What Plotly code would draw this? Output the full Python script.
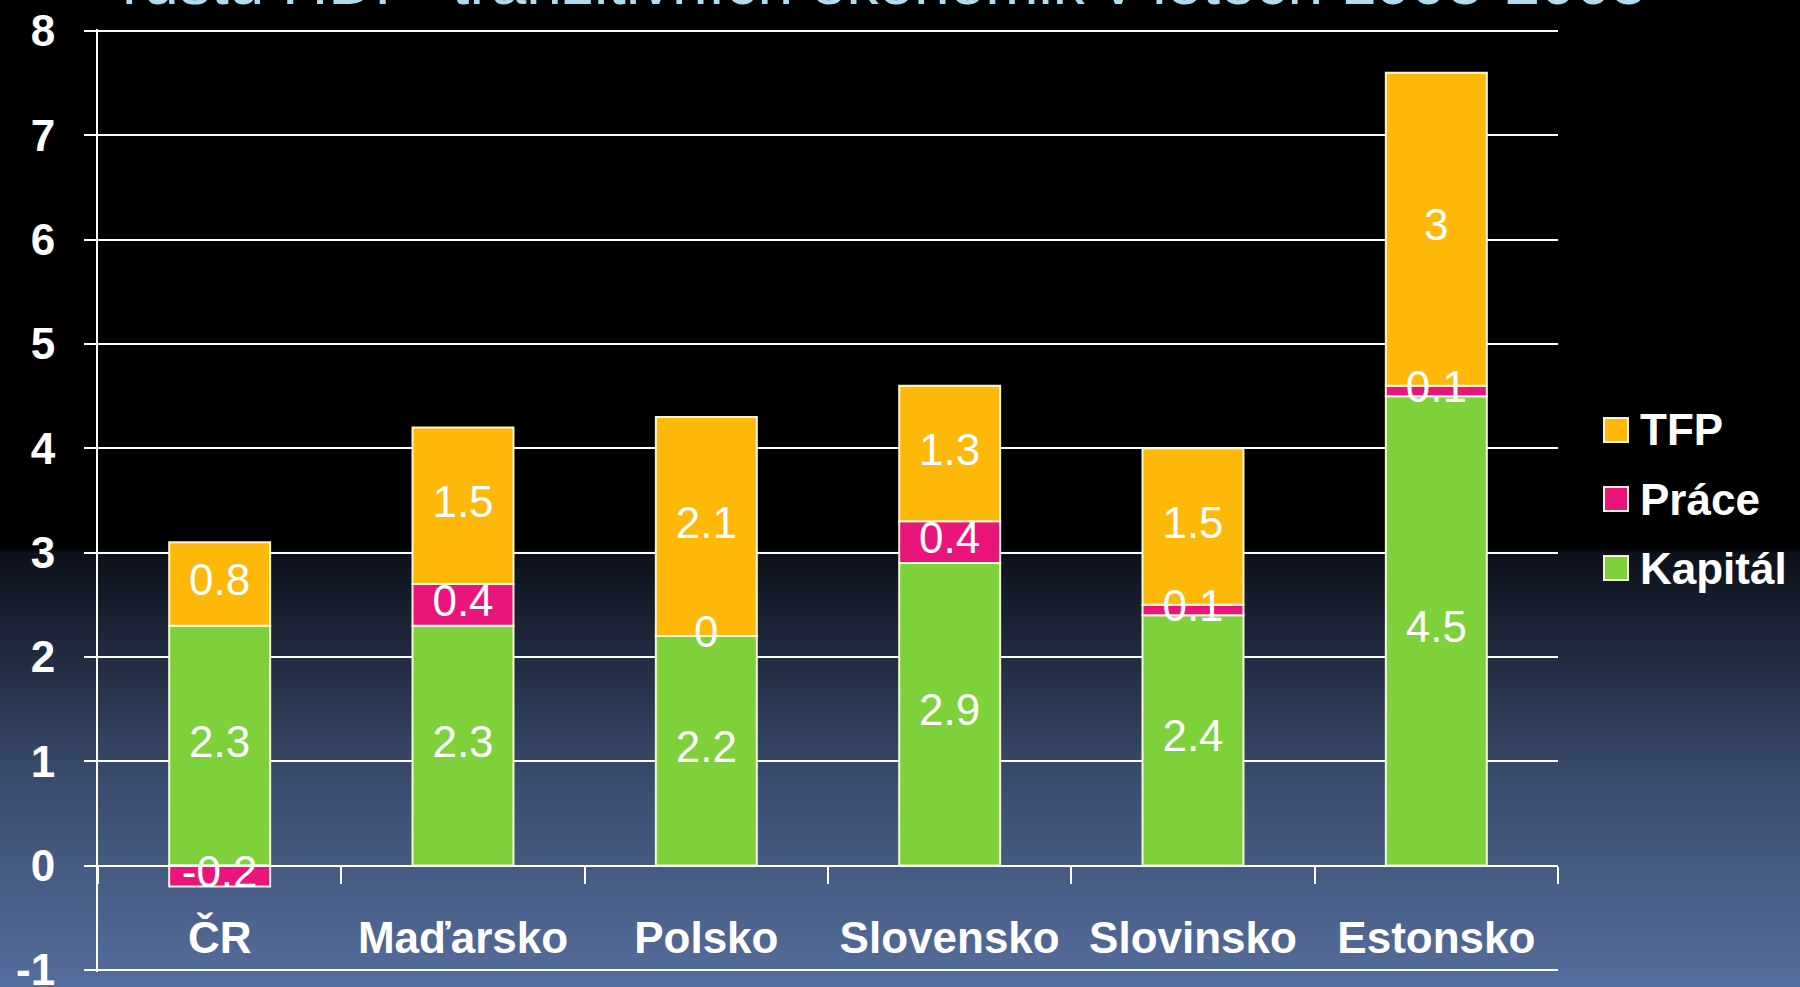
import base64
import plotly.graph_objects as go

# data
zeme = ["ČR", "Maďarsko", "Polsko", "Slovensko", "Slovinsko", "Estonsko"]
kapital = [2.3, 2.3, 2.2, 2.9, 2.4, 4.5]
prace = [-0.2, 0.4, 0, 0.4, 0.1, 0.1]
tfp = [0.8, 1.5, 2.1, 1.3, 1.5, 3]
osa_y = [-1, 0, 1, 2, 3, 4, 5, 6, 7, 8]
osa_y_text = ["-1", "0", "1", "2", "3", "4", "5", "6", "7", "8"]

serie = [("Kapitál", kapital, "#7FD13B"), ("Práce", prace, "#EA157A"), ("TFP", tfp, "#FEB80A")]
titulek = "růstu HDP  tranzitivních ekonomik v letech 1995-2005"

FONT = "Liberation Sans, Arial, sans-serif"
W, H = 1800, 987
Y0, Y1 = -1.02, 8.02   # maly presah, aby plotly nevynechal krajni mrizku
L, R, T, B = 98, 242, 29, 15
PW, PH = W - L - R, H - T - B


def px_x(px):
    return (px - L) / PW


def px_y(py):
    return (H - B - py) / PH


fig = go.Figure()

# sloupce + popisky uprostred segmentu
pos_base = [0.0] * len(zeme)
neg_base = [0.0] * len(zeme)
for name, vals, col in serie:
    fig.add_trace(go.Bar(
        x=zeme, y=vals, name=name,
        marker=dict(color=col, line=dict(color="rgba(255,252,225,0.95)", width=2)),
        showlegend=False, hoverinfo="skip",
    ))
    mids = []
    for i, v in enumerate(vals):
        if v >= 0:
            mids.append(pos_base[i] + v / 2)
            pos_base[i] += v
        else:
            mids.append(neg_base[i] + v / 2)
            neg_base[i] += v
    fig.add_trace(go.Scatter(
        x=zeme, y=mids, mode="text", text=[f"{v:g}" for v in vals],
        textfont=dict(family=FONT, size=44, color="white"),
        showlegend=False, hoverinfo="skip",
    ))

# pozadi - prechod cerna -> modra
svg = (
    f'<svg xmlns="http://www.w3.org/2000/svg" width="{W}" height="{H}" preserveAspectRatio="none">'
    '<defs><linearGradient id="g" x1="0" y1="0" x2="0" y2="1">'
    '<stop offset="0" stop-color="#000"/>'
    '<stop offset="0.555" stop-color="#000"/>'
    '<stop offset="0.56" stop-color="rgb(12,16,26)"/>'
    '<stop offset="0.79" stop-color="rgb(58,76,110)"/>'
    '<stop offset="1" stop-color="rgb(86,110,158)"/>'
    '</linearGradient></defs>'
    f'<rect width="{W}" height="{H}" fill="url(#g)"/></svg>'
)
bg = "data:image/svg+xml;base64," + base64.b64encode(svg.encode()).decode()

# vlastni legenda
shapes = []
annotations = []
for k, (name, vals, col) in enumerate(reversed(serie)):
    cy = 430 + k * 69
    shapes.append(dict(
        type="rect", xref="paper", yref="paper",
        xsizemode="pixel", ysizemode="pixel",
        xanchor=px_x(1604), yanchor=px_y(cy),
        x0=0, x1=24, y0=-12, y1=12,
        fillcolor=col, line=dict(color="rgba(255,252,225,0.95)", width=2),
    ))
    annotations.append(dict(
        text=name, xref="paper", yref="paper", x=px_x(1638), y=px_y(cy),
        xanchor="left", yanchor="middle", showarrow=False,
        font=dict(family=FONT, size=44, color="white", weight="bold"),
    ))

# nadpis (oriznuty nahore)
annotations.append(dict(
    text=titulek, xref="paper", yref="paper", x=px_x(120), y=px_y(20),
    xanchor="left", yanchor="bottom", showarrow=False,
    font=dict(family=FONT, size=64, color="rgb(175,220,240)"),
))

fig.update_layout(
    width=W, height=H,
    margin=dict(l=L, r=R, t=T, b=B),
    barmode="relative", bargap=0.585,
    paper_bgcolor="black", plot_bgcolor="rgba(0,0,0,0)",
    showlegend=False,
    font=dict(family=FONT, color="white"),
    images=[dict(
        source=bg, xref="paper", yref="paper",
        x=px_x(0), y=px_y(0), sizex=W / PW, sizey=H / PH,
        xanchor="left", yanchor="top", sizing="stretch", layer="below",
    )],
    shapes=shapes,
    annotations=annotations,
    xaxis=dict(
        anchor="free", position=(0 - Y0) / (Y1 - Y0), automargin=False,
        showline=True, linecolor="white", linewidth=2,
        ticks="outside", tickson="boundaries", ticklen=17, tickwidth=2, tickcolor="white",
        tickfont=dict(family=FONT, size=44, color="white", weight="bold"),
        ticklabelstandoff=34,
        showgrid=False,
    ),
    yaxis=dict(
        range=[Y0, Y1], tickmode="array", tickvals=osa_y, ticktext=osa_y_text,
        automargin=False,
        showline=True, linecolor="white", linewidth=2,
        ticks="outside", ticklen=12, tickwidth=2, tickcolor="white",
        showgrid=True, gridcolor="white", gridwidth=2,
        zeroline=False,
        tickfont=dict(family=FONT, size=44, color="white", weight="bold"),
        ticklabelstandoff=20, ticklabeloverflow="allow",
    ),
)

fig.write_html(
    "out.html",
    config={"displayModeBar": False},
    post_script="document.body.style.margin='0';document.body.style.overflow='hidden';",
)
